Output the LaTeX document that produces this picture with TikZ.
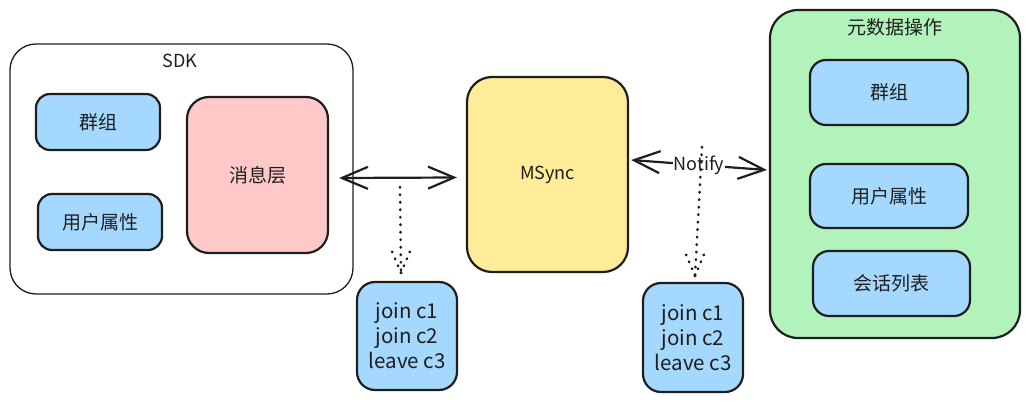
\documentclass[tikz,border=0pt]{standalone}
\usepackage{fontspec}
\setmainfont{Noto Sans CJK SC}
\usetikzlibrary{arrows.meta,calc}
\definecolor{ink}{HTML}{1E1E1E}
\definecolor{cblue}{HTML}{A5D8FF}
\definecolor{cpink}{HTML}{FFC9C9}
\definecolor{cyellow}{HTML}{FFEC99}
\definecolor{cgreen}{HTML}{B2F2BB}
\tikzset{
  box/.style={draw=ink, line width=2.2pt, rounded corners=#1, text=ink, align=center, inner sep=0pt},
  box/.default=14pt,
  cjk/.style={font=\fontsize{19}{22}\selectfont},
  lat/.style={font=\fontsize{20.5}{25}\selectfont, text=ink},
  small/.style={font=\fontsize{18}{20}\selectfont, text=ink},
  biarrow/.style={draw=ink, line width=2.2pt, {Straight Barb[length=26pt,width=22pt]}-{Straight Barb[length=26pt,width=22pt]}},
  dots/.style={draw=ink, line width=2.7pt, line cap=round, dash pattern=on 0.5pt off 7pt}
}
\begin{document}
\begin{tikzpicture}[x=1pt,y=-1pt]
\useasboundingbox (0,0) rectangle (1033,403);
% SDK container
\node[box=26pt, line width=1.3pt, fill=white, minimum width=343pt, minimum height=250pt] (sdk) at (181.5,169) {};
\node[small] (sdkt) at (180,61) {SDK};
\node[box, fill=cblue, cjk, minimum width=124pt, minimum height=56pt] (gl) at (98,122) {群组};
\node[box, fill=cblue, cjk, minimum width=124pt, minimum height=56pt] (ul) at (100,222) {用户属性};
\node[box=22pt, fill=cpink, cjk, minimum width=141pt, minimum height=156pt] (xiao) at (257.5,175) {消息层};
% MSync
\node[box=25pt, fill=cyellow, small, minimum width=161pt, minimum height=195pt] (msync) at (547.5,174.5) {MSync};
% Metadata container
\node[box=28pt, fill=cgreen, minimum width=250pt, minimum height=328pt] (meta) at (895,174) {};
\node[cjk, text=ink] (metat) at (895,27) {元数据操作};
\node[box=16pt, fill=cblue, cjk, minimum width=158pt, minimum height=65pt] (gr) at (889,92.5) {群组};
\node[box=16pt, fill=cblue, cjk, minimum width=158pt, minimum height=64pt] (ur) at (889,196) {用户属性};
\node[box=16pt, fill=cblue, cjk, minimum width=157pt, minimum height=65pt] (hr) at (891.5,283.5) {会话列表};
% join boxes
\node[box=18pt, fill=cblue, lat, minimum width=100pt, minimum height=108pt] (jl) at (407,336) {join c1\\join c2\\leave c3};
\node[box=18pt, fill=cblue, lat, minimum width=100pt, minimum height=109pt] (jr) at (693,337.5) {join c1\\join c2\\leave c3};
% arrows
\draw[biarrow] ([xshift=10pt,yshift=-3pt]xiao.east) -- ([xshift=-9pt,yshift=-3pt]msync.west);
\draw[biarrow] ([xshift=2pt,yshift=14.5pt]msync.east) -- ([xshift=-2pt,yshift=4pt]meta.west)
  node[pos=0.5, fill=white, inner sep=1pt, small] (notify) {Notify};
% dotted arrows
\coordinate (d1s) at (400,187);
\coordinate (d1e) at ([xshift=-6pt,yshift=8pt]jl.north);
\draw[dots] (d1s) -- (d1e);
\draw[dots] (d1e) -- ++(-10,-24);
\draw[dots] (d1e) -- ++(10,-24);
\coordinate (d2s) at (702,147);
\coordinate (d2e) at ([xshift=2pt,yshift=6pt]jr.north);
\draw[dots] (d2s) -- (d2e);
\draw[dots] (d2e) -- ++(-10,-24);
\draw[dots] (d2e) -- ++(10,-24);
\end{tikzpicture}
\end{document}
